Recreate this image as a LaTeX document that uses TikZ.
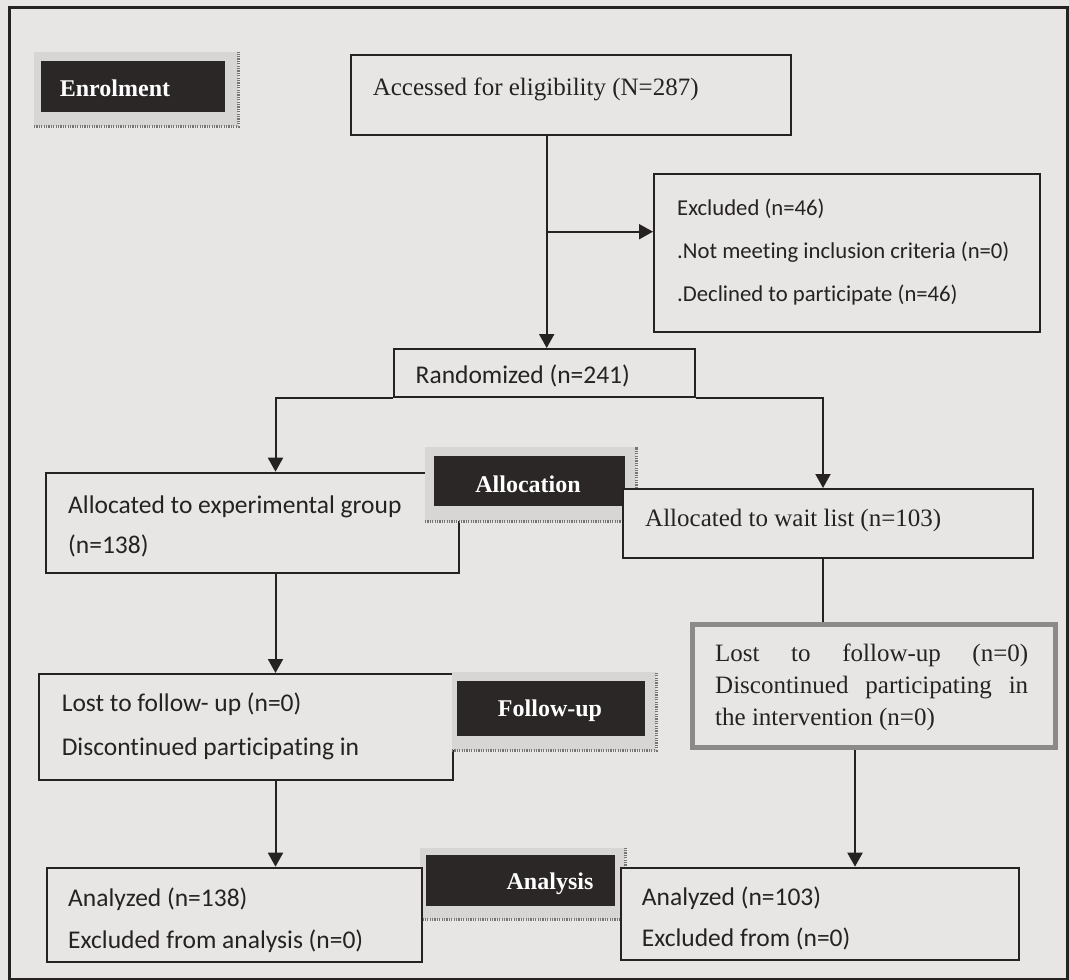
\documentclass[tikz,border=0pt]{standalone}
\usepackage{fontspec}
\setmainfont{Liberation Serif}
\newfontfamily\calib[Ligatures=NoCommon]{Carlito}
\usetikzlibrary{arrows.meta}
\definecolor{paper}{RGB}{232,229,229}
\definecolor{ink}{RGB}{38,34,34}
\definecolor{lbl}{RGB}{44,39,39}
\definecolor{shade}{RGB}{216,213,213}
\definecolor{hatch}{RGB}{120,116,116}
\definecolor{greyb}{RGB}{140,137,137}
% \mkbox{style}{name}{x1}{y1}{x2}{y2}
\newcommand\mkbox[6]{\node[#1, minimum width={(#5-#3)*1pt}, minimum height={(#6-#4)*1pt}] (#2) at (#3,#4) {};}
\begin{document}
\begin{tikzpicture}[x=1pt,y=-1pt,
  box/.style={draw=ink, line width=2pt, fill=paper, rectangle, inner sep=0pt, anchor=north west},
  framebox/.style={draw=ink, line width=2.5pt, rectangle, inner sep=0pt, anchor=north west},
  greybox/.style={box, draw=greyb, line width=5pt},
  tag/.style={fill=lbl, rectangle, inner sep=0pt, anchor=north west},
  tagshadow/.style={fill=shade, rectangle, inner sep=0pt, anchor=north west},
  hatchln/.style={draw=hatch, line width=3pt, dash pattern=on 1.2pt off 1.2pt},
  tagtext/.style={text=white, font=\fontsize{24}{28}\selectfont\bfseries, anchor=base, inner sep=0pt},
  sertext/.style={font=\fontsize{25}{31.7}\selectfont, anchor=base west, inner sep=0pt, text=ink},
  caltext/.style={font=\calib\fontsize{25.5}{30}\selectfont, anchor=base west, inner sep=0pt, text=ink},
  smalltext/.style={font=\calib\fontsize{22.7}{28}\selectfont, anchor=base west, inner sep=0pt, text=ink},
  arr/.style={draw=ink, line width=2pt, -{Triangle[length=14pt,width=15pt]}},
  link/.style={draw=ink, line width=2pt},
]
\fill[paper] (0,0) rectangle (1069,980);
\useasboundingbox (0,0) rectangle (1069,980);

% x positions of vertical connectors
\coordinate (xM) at (546.7,0);
\coordinate (xL) at (275.5,0);
\coordinate (xR) at (823,0);
\coordinate (xR2) at (855,0);
\coordinate (jx) at (546.7,231.7);

\mkbox{framebox}{frame}{8}{6}{1066}{978}

% Enrolment tag
\mkbox{tagshadow}{enrolsh}{34}{52}{238}{126}
\draw[hatchln] (enrolsh.south west) -- (enrolsh.south east) -- (enrolsh.north east);
\mkbox{tag}{enrol}{41}{61}{225}{112}
\node[tagtext] (enroltx) at (115,96.7) {Enrolment};

% Accessed
\mkbox{box}{acc}{349.5}{54}{790}{134}
\node[sertext] (acctx) at (372.6,95.5) {Accessed for eligibility (N=287)};

% Excluded
\mkbox{box}{exc}{653}{173}{1039}{331}
\node[smalltext] (exc1) at (677,215.7) {Excluded (n=46)};
\node[smalltext] (exc2) at (677,258.3) {.Not meeting inclusion criteria (n=0)};
\node[smalltext] (exc3) at (677,301.7) {.Declined to participate (n=46)};

% Randomized
\mkbox{box}{ran}{392.6}{348}{694}{396}
\node[caltext] (rantx) at (415.5,383.3) {Randomized (n=241)};

% Experimental group
\mkbox{box}{exp}{45}{471.7}{458}{572}
\node[caltext] (exp1) at (68,513.3) {Allocated to experimental group};
\node[caltext] (exp2) at (68,553.3) {(n=138)};

% Allocation tag
\mkbox{tagshadow}{allocsh}{425}{447}{636}{521}
\draw[hatchln] (allocsh.south west) -- (allocsh.south east) -- (allocsh.north east);
\mkbox{tag}{alloc}{434}{456}{625}{506}
\node[tagtext] (alloctx) at (528,492.3) {Allocation};

% Wait list
\mkbox{box}{wait}{621.7}{488}{1031.7}{557}
\node[sertext] (waittx) at (645,526.7) {Allocated to wait list (n=103)};

% Lost to follow-up, left
\mkbox{box}{lostL}{38}{673}{451.7}{779.3}
\node[caltext] (lostL1) at (61.6,711.7) {Lost to follow- up (n=0)};
\node[caltext] (lostL2) at (61.6,755) {Discontinued participating in};

% Follow-up tag
\mkbox{tagshadow}{followsh}{452}{672}{656}{750}
\draw[hatchln] (followsh.south west) -- (followsh.south east) -- (followsh.north east);
\mkbox{tag}{follow}{456.7}{681}{645}{736}
\node[tagtext] (followtx) at (550,716.7) {Follow-up};

% Lost to follow-up, right
\mkbox{greybox}{lostR}{690}{621.7}{1053}{745}
\node[sertext] (lostRtx) at (715,661.7) {\parbox[t]{313pt}{\hyphenpenalty=10000\exhyphenpenalty=10000\fontsize{25}{31.7}\selectfont Lost to follow-up (n=0)\linebreak Discontinued participating in\linebreak the intervention (n=0)}};

% Analysis tag
\mkbox{tagshadow}{anash}{420}{848}{625}{919}
\draw[hatchln] (anash.south west) -- (anash.south east) -- (anash.north east);
\mkbox{tag}{ana}{426}{855}{615}{906}
\node[tagtext] (anatx) at (550,889.3) {Analysis};

% Analyzed, left
\mkbox{box}{anaL}{45.5}{866.7}{420.5}{960.7}
\node[caltext] (anaL1) at (68,906.7) {Analyzed (n=138)};
\node[caltext] (anaL2) at (68,948.3) {Excluded from analysis (n=0)};

% Analyzed, right
\mkbox{box}{anaR}{620}{866.7}{1018.3}{959.3}
\node[caltext] (anaR1) at (641.7,905) {Analyzed (n=103)};
\node[caltext] (anaR2) at (641.7,946.7) {Excluded from (n=0)};

% Connectors
\draw[arr] (acc.south -| xM) -- (ran.north -| xM);
\draw[arr] (jx) -- (jx -| exc.west);
\draw[arr] (ran.south west) -- (ran.south -| xL) -- (exp.north -| xL);
\draw[arr] (ran.south east) -- (ran.south -| xR) -- (wait.north -| xR);
\draw[arr] (exp.south -| xL) -- (lostL.north -| xL);
\draw[arr] (lostL.south -| xL) -- (anaL.north -| xL);
\draw[link] (wait.south -| xR) -- (lostR.north -| xR);
\draw[arr] (lostR.south -| xR2) -- (anaR.north -| xR2);
\end{tikzpicture}
\end{document}
